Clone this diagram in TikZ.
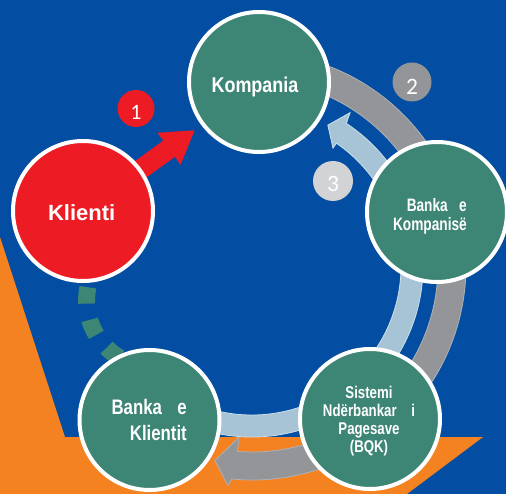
\documentclass[tikz,border=0pt]{standalone}
\usepackage{fontspec}
\setmainfont{Liberation Sans}
\newfontfamily\badgefont{Carlito}
\usepackage{graphicx}
\usetikzlibrary{arrows.meta}
\definecolor{bgblue}{RGB}{3,78,162}
\definecolor{orng}{RGB}{245,130,32}
\definecolor{grn}{RGB}{61,133,116}
\definecolor{rd}{RGB}{237,28,36}
\definecolor{gry}{RGB}{147,149,152}
\definecolor{gryedge}{RGB}{175,177,180}
\definecolor{lblue}{RGB}{166,196,213}
\definecolor{lblueedge}{RGB}{205,222,232}
\definecolor{lgry}{RGB}{209,211,212}
\newcommand\rlines[2]{\vtop{\baselineskip=#1\halign{\hfil##\cr#2\crcr}}}
\newcommand\clines[2]{\vtop{\baselineskip=#1\halign{\hfil##\hfil\cr#2\crcr}}}
\begin{document}
\begin{tikzpicture}[x=1pt,y=1pt,
  stage/.style={circle, draw=white, line width=4pt, fill=grn, minimum size=140pt, inner sep=0pt},
  lbl/.style={text=white, inner sep=0pt, font=\bfseries},
  badge/.style={circle, minimum size=38pt, inner sep=0pt, text=white, font=\badgefont},
  band/.style={line width=0.8pt},
  dsh/.style={grn, line width=17pt, dash pattern=on 16.5pt off 16.5pt}]
\useasboundingbox (0,0) rectangle (506,-494);
\clip (0,0) rectangle (506,-494);
% background
\fill[bgblue] (0,0) rectangle (506,-494);
\fill[orng] (0,-237) -- (65,-437) -- (483,-437) -- (407,-494) -- (0,-494) -- cycle;
% cycle centre
\coordinate (C) at (252,-266);
% gray band (2)
\fill[gry, draw=gryedge, band] ([shift={(C)}]80:214) arc[start angle=80, end angle=-95.5, radius=214]
  -- ([shift={(C)}]-96.25:221) -- ([shift={(C)}]-100.8:198) -- ([shift={(C)}]-94.35:172)
  -- ([shift={(C)}]-94.5:186) arc[start angle=-94.5, end angle=80, radius=186] -- cycle;
% light blue band (3)
\fill[lblue, draw=lblueedge, band] ([shift={(C)}]240:149) arc[start angle=240, end angle=415.5, radius=149]
  -- ([shift={(C)}]415.5:143) -- ([shift={(C)}]421.7:160) -- ([shift={(C)}]417.4:182)
  -- ([shift={(C)}]416.5:171) arc[start angle=416.5, end angle=240, radius=171] -- cycle;
% helper coordinates
\coordinate (tip1) at (195,-130);
\coordinate (dc) at (153.6,-300);
\coordinate (klientiCtr) at (83,-211);
% red arrow (1)
\draw[rd, line width=20pt, -{Triangle[length=32pt, width=37pt]}] (klientiCtr) -- (tip1);
% green dashed link
\draw[dsh] ([shift={(dc)}]169:67) arc[start angle=169, end angle=245, radius=67];
% circles
\node[stage] (komp) at (259,-82) {};
\node[stage, fill=rd] (klienti) at (klientiCtr) {};
\node[stage] (bk) at (437,-212) {};
\node[stage] (bqk) at (370,-419) {};
\node[stage] (bkl) at (149.5,-420) {};
% texts
\node[lbl, anchor=base] (kompT) at (255,-93) {\fontsize{21.4}{24}\selectfont\scalebox{0.84}[1]{Kompania}};
\node[lbl, anchor=base] (klientiT) at (81.7,-220.7) {\fontsize{22}{26}\selectfont Klienti};
\node[lbl, anchor=base east] (bkT) at (467,-212) {\fontsize{18}{19}\selectfont\scalebox{0.76}[1]{\rlines{19pt}{\makebox[79pt][s]{Banka e}\cr Kompanisë}}};
\node[lbl, anchor=base] (bqkT) at (369,-398) {\fontsize{17}{18}\selectfont\scalebox{0.78}[1]{\clines{18.3pt}{Sistemi\cr\makebox[118pt][s]{Ndërbankar i}\cr Pagesave\cr (BQK)}}};
\node[lbl, anchor=base east] (bklT) at (187,-414) {\fontsize{21}{24}\selectfont\scalebox{0.8}[1]{\rlines{26pt}{\makebox[94pt][s]{Banka e}\cr Klientit}}};
% badges
\node[badge, fill=rd, minimum size=37pt] (b1) at (136,-108.5) {\fontsize{22}{22}\selectfont\raisebox{-11.5pt}[0pt][0pt]{1}};
\node[badge, fill=gry, minimum size=39pt] (b2) at (412,-82) {\fontsize{23.5}{24}\selectfont\raisebox{-12.4pt}[0pt][0pt]{2}};
\node[badge, fill=lgry, minimum size=40pt] (b3) at (333,-181) {\fontsize{23.5}{24}\selectfont\raisebox{-10.4pt}[0pt][0pt]{3}};
\end{tikzpicture}
\end{document}
